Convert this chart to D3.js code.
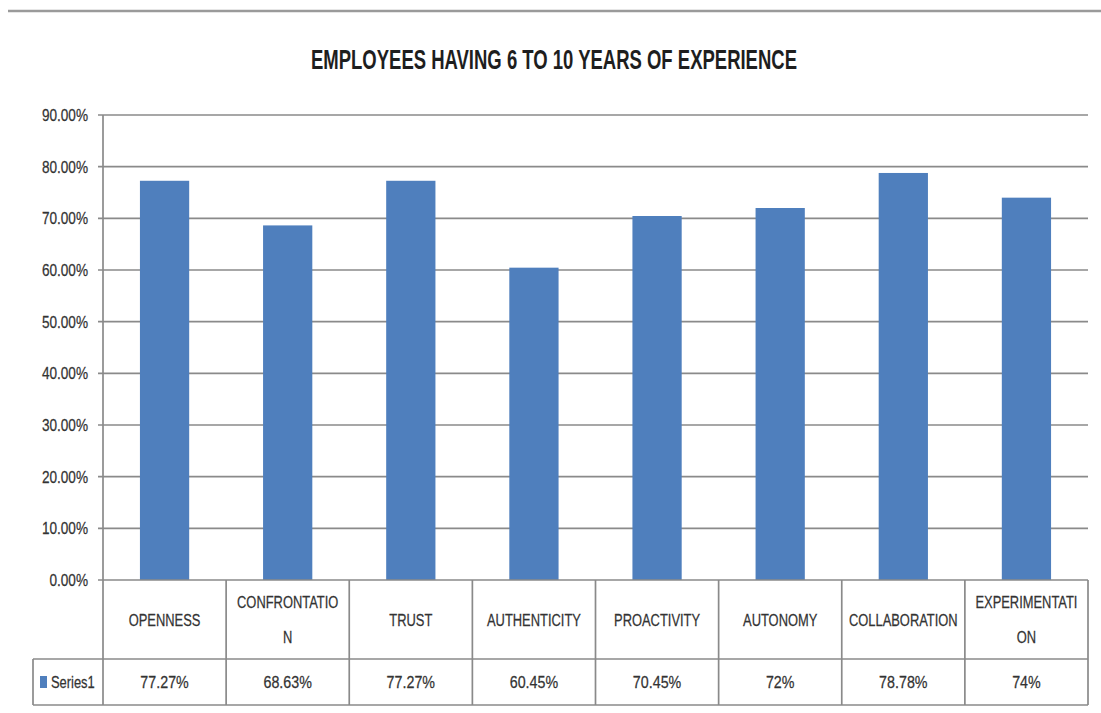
<!DOCTYPE html>
<html>
<head>
<meta charset="utf-8">
<script src="https://cdn.jsdelivr.net/npm/d3@7"></script>
<style>
  html, body { margin: 0; padding: 0; background: #fff; }
  svg { display: block; }
</style>
</head>
<body>
<svg id="chart" width="1101" height="713"></svg>
<script>
// Chart data
const title = "EMPLOYEES HAVING 6 TO 10 YEARS OF EXPERIENCE";
const categories = ["OPENNESS", "CONFRONTATION", "TRUST", "AUTHENTICITY",
                    "PROACTIVITY", "AUTONOMY", "COLLABORATION", "EXPERIMENTATION"];
// How each category name is broken over lines in the data table
const categoryLines = [["OPENNESS"], ["CONFRONTATIO", "N"], ["TRUST"], ["AUTHENTICITY"],
                       ["PROACTIVITY"], ["AUTONOMY"], ["COLLABORATION"], ["EXPERIMENTATI", "ON"]];
const seriesName = "Series1";
const values = [77.27, 68.63, 77.27, 60.45, 70.45, 72, 78.78, 74]; // percent
const yTicks = [0, 10, 20, 30, 40, 50, 60, 70, 80, 90];

const svg = d3.select("#chart");
const gridColor = "#8a8a8a";
const textColor = "#333333";
const barColor = "#4f7fbd";

const plot = { left: 103, right: 1088, top: 115, bottom: 580 };
const table = { legendLeft: 33, rowSplit: 659, bottom: 705 };

const x = d3.scaleBand().domain(categories).range([plot.left, plot.right]).padding(0);
const y = d3.scaleLinear().domain([0, 90]).range([plot.bottom, plot.top]);

// condensed text helper
function label(g, str, px, py, opts) {
  const o = Object.assign({ size: 16, sx: 0.84, anchor: "middle", weight: "normal" }, opts || {});
  return g.append("text")
    .attr("transform", `translate(${px},${py}) scale(${o.sx},1)`)
    .attr("text-anchor", o.anchor)
    .attr("font-family", "'Liberation Sans', Arial, sans-serif")
    .attr("font-size", o.size)
    .attr("font-weight", o.weight)
    .attr("fill", textColor)
    .attr("stroke", textColor)
    .attr("stroke-width", 0.25)
    .text(str);
}

// separator line at the top of the page
svg.append("line")
  .attr("x1", 8).attr("x2", 1101).attr("y1", 11).attr("y2", 11)
  .attr("stroke", "#9a9a9a").attr("stroke-width", 2.5);

// title
svg.append("text")
  .attr("x", 311).attr("y", 69)
  .attr("textLength", 486).attr("lengthAdjust", "spacingAndGlyphs")
  .attr("font-family", "'Liberation Sans', Arial, sans-serif")
  .attr("font-size", 28).attr("font-weight", "bold")
  .attr("fill", "#1e1e1e")
  .text(title);

// gridlines and y-axis tick labels
const grid = svg.append("g");
grid.selectAll("line.grid").data(yTicks.filter(t => t > 0)).join("line")
  .attr("class", "grid")
  .attr("x1", plot.left - 5).attr("x2", plot.right)
  .attr("y1", d => y(d)).attr("y2", d => y(d))
  .attr("stroke", gridColor).attr("stroke-width", 1.7);

const yLabels = svg.append("g");
yTicks.forEach(t => {
  label(yLabels, d3.format(".2f")(t) + "%", 88, y(t) + 6, { anchor: "end", size: 17, sx: 0.8 });
});

// bars
svg.append("g").selectAll("rect").data(categories).join("rect")
  .attr("x", (d) => x(d) + x.bandwidth() * 0.3)
  .attr("width", x.bandwidth() * 0.4)
  .attr("y", (d, i) => y(values[i]))
  .attr("height", (d, i) => y(0) - y(values[i]))
  .attr("fill", barColor);

// data table
const tbl = svg.append("g").attr("stroke", gridColor).attr("stroke-width", 1.7).attr("fill", "none");
// y axis line, continued down through the table
tbl.append("line").attr("x1", plot.left).attr("x2", plot.left).attr("y1", plot.top).attr("y2", table.bottom);
// zero line / table top
tbl.append("line").attr("x1", plot.left - 5).attr("x2", plot.right).attr("y1", plot.bottom).attr("y2", plot.bottom);
// row divider and bottom edge, including the legend cell
tbl.append("line").attr("x1", table.legendLeft).attr("x2", plot.right).attr("y1", table.rowSplit).attr("y2", table.rowSplit);
tbl.append("line").attr("x1", table.legendLeft).attr("x2", plot.right).attr("y1", table.bottom).attr("y2", table.bottom);
tbl.append("line").attr("x1", table.legendLeft).attr("x2", table.legendLeft).attr("y1", table.rowSplit).attr("y2", table.bottom);
// column dividers
tbl.selectAll("line.col").data(categories).join("line")
  .attr("class", "col")
  .attr("x1", d => x(d) + x.bandwidth()).attr("x2", d => x(d) + x.bandwidth())
  .attr("y1", plot.bottom).attr("y2", table.bottom);

// category names
const catG = svg.append("g");
categories.forEach((c, i) => {
  const lines = categoryLines[i];
  const cx = x(c) + x.bandwidth() / 2;
  const mid = (plot.bottom + table.rowSplit) / 2 + 6;
  const gap = 35;
  lines.forEach((ln, j) => {
    const ly = mid + (j - (lines.length - 1) / 2) * gap;
    label(catG, ln, cx, ly, { size: 17, sx: 0.76 });
  });
});

// legend cell
const valueY = (table.rowSplit + table.bottom) / 2 + 6;
svg.append("rect").attr("x", 40).attr("y", valueY - 12).attr("width", 7).attr("height", 12).attr("fill", barColor);
label(svg, seriesName, 51, valueY, { anchor: "start", size: 17, sx: 0.76 });

// values row
const valG = svg.append("g");
categories.forEach((c, i) => {
  label(valG, values[i] + "%", x(c) + x.bandwidth() / 2, valueY, { size: 17, sx: 0.84 });
});
</script>
</body>
</html>
